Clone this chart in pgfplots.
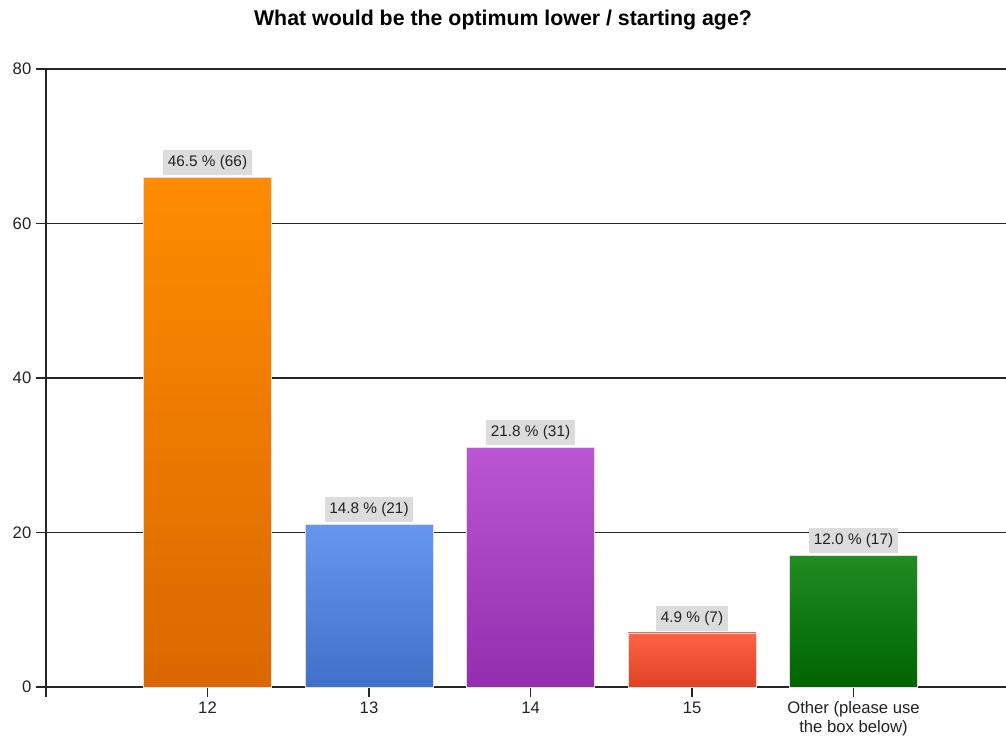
\documentclass[border=0pt]{standalone}
\usepackage{fontspec}
\setmainfont{Liberation Sans}
\usepackage{pgfplots}
\pgfplotsset{compat=1.18}
\definecolor{oTop}{HTML}{FF8C00}\definecolor{oBot}{HTML}{DA6800}
\definecolor{bTop}{HTML}{6696EE}\definecolor{bBot}{HTML}{4170C8}
\definecolor{pTop}{HTML}{BA55D3}\definecolor{pBot}{HTML}{942EAE}
\definecolor{rTop}{HTML}{FF6347}\definecolor{rBot}{HTML}{DE4222}
\definecolor{gTop}{HTML}{228B22}\definecolor{gBot}{HTML}{006400}
\definecolor{lblbg}{HTML}{DCDCDC}
\definecolor{txt}{HTML}{222222}
\begin{document}
\begin{tikzpicture}
\begin{axis}[
  scale only axis,
  width=720pt, height=463.5pt,
  xmin=0, xmax=5.944,
  ymin=0, ymax=80,
  ytick={0,20,40,60,80},
  xtick={1,2,3,4,5},
  xticklabels={12,13,14,15,{Other (please use\\the box below)}},
  xticklabel style={align=center, font=\fontsize{12.5}{14}\selectfont, text=txt},
  yticklabel style={font=\fontsize{12.5}{14}\selectfont, text=txt},
  extra x ticks={0}, extra x tick labels={},
  extra x tick style={grid=none},
  axis x line*=bottom, axis y line*=left,
  axis line style={black!85, line width=0.9pt},
  tick style={black!85, line width=0.9pt},
  tick align=outside,
  major tick length=7.5pt,
  ymajorgrids, grid style={black!85, line width=0.9pt},
  ybar, bar width=96pt, bar shift=0pt,
  point meta=explicit symbolic,
  nodes near coords,
  every node near coord/.append style={fill=lblbg, font=\fontsize{11.5}{13}\selectfont, text=txt, inner xsep=3.5pt, inner ysep=4pt, yshift=1.5pt},
  clip=false,
  /pgf/number format/assume math mode=true,
]
\addplot[draw=gray!25, line width=0.6pt, top color=oTop, bottom color=oBot] coordinates {(1,66) [46.5 \% (66)]};
\addplot[draw=gray!25, line width=0.6pt, top color=bTop, bottom color=bBot] coordinates {(2,21) [14.8 \% (21)]};
\addplot[draw=gray!25, line width=0.6pt, top color=pTop, bottom color=pBot] coordinates {(3,31) [21.8 \% (31)]};
\addplot[draw=gray!25, line width=0.6pt, top color=rTop, bottom color=rBot] coordinates {(4,7) [4.9 \% (7)]};
\addplot[draw=gray!25, line width=0.6pt, top color=gTop, bottom color=gBot] coordinates {(5,17) [12.0 \% (17)]};
\end{axis}
\node[font=\bfseries\fontsize{16}{18}\selectfont, anchor=center] at (342.75pt,500.5pt) {What would be the optimum lower / starting age?};
\pgfresetboundingbox
\path[use as bounding box] (-34.5pt,-37.5pt) rectangle (720pt,515.25pt);
\end{tikzpicture}
\end{document}
